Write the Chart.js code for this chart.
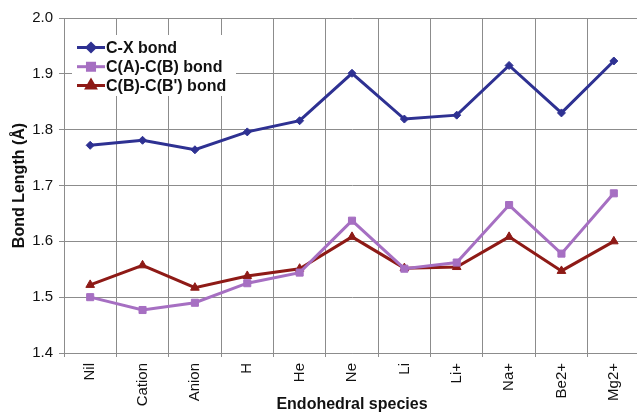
<!DOCTYPE html>
<html>
<head>
<meta charset="utf-8">
<script src="https://cdn.jsdelivr.net/npm/chart.js@4/dist/chart.umd.min.js"></script>
<style>
  html, body { margin: 0; padding: 0; background: #fff; overflow: hidden; }
  #wrap { width: 637px; height: 414px; overflow: hidden; }
</style>
</head>
<body>
<div id="wrap"><canvas id="c" width="646" height="414"></canvas></div>
<script>
// Endohedral species vs bond length (Å). Plot is cropped at the right edge
// in the reference, so the canvas is a few px wider than the window.
var SPECIES = ["Nil", "Cation", "Anion", "H", "He", "Ne", "Li", "Li+", "Na+", "Be2+", "Mg2+"];
var CX_BOND = [1.772, 1.781, 1.764, 1.796, 1.816, 1.901, 1.819, 1.826, 1.915, 1.830, 1.923];
var CA_CB_BOND = [1.500, 1.477, 1.490, 1.525, 1.544, 1.637, 1.551, 1.562, 1.665, 1.578, 1.686];
var CB_CBP_BOND = [1.522, 1.557, 1.517, 1.538, 1.551, 1.608, 1.552, 1.554, 1.608, 1.547, 1.600];
var Y_TICKS = [1.4, 1.5, 1.6, 1.7, 1.8, 1.9, 2.0];

var FONT = "'Liberation Sans', Arial, Helvetica, sans-serif";
var NAVY = "#2e3192", PURPLE = "#a66fc2", DARKRED = "#8e1a16";
var GRID = "#8c8c8c";

function series(label, data, color, style, radius) {
  return { label: label, data: data, borderColor: color, backgroundColor: color,
           borderWidth: 3, pointStyle: style, pointRadius: radius, pointHoverRadius: radius,
           pointBorderWidth: 1, tension: 0, fill: false };
}

// legend drawn as line + marker like the original, on a white box
var boxLegend = {
  id: "boxLegend",
  afterDatasetsDraw: function (chart) {
    var ctx = chart.ctx;
    ctx.save();
    ctx.fillStyle = "#fff";
    ctx.fillRect(72, 35, 164, 61);
    var rowY = [47.5, 66.7, 85.5];
    chart.data.datasets.forEach(function (ds, i) {
      var y = rowY[i];
      ctx.strokeStyle = ds.borderColor;
      ctx.lineWidth = 3;
      ctx.beginPath(); ctx.moveTo(77, y); ctx.lineTo(105, y); ctx.stroke();
      ctx.fillStyle = ds.backgroundColor;
      Chart.helpers.drawPoint(ctx, { pointStyle: ds.pointStyle, radius: ds.pointRadius, rotation: 0, borderWidth: 1 }, 91, y);
      ctx.fill();
      ctx.fillStyle = "#111";
      ctx.font = "bold 16px " + FONT;
      ctx.textBaseline = "middle";
      ctx.fillText(ds.label, 106, y + 1);
    });
    ctx.restore();
  }
};

new Chart(document.getElementById("c"), {
  type: "line",
  data: {
    labels: SPECIES,
    datasets: [
      series("C-X bond", CX_BOND, NAVY, "rectRot", 4),
      series("C(A)-C(B) bond", CA_CB_BOND, PURPLE, "rect", 5),
      series("C(B)-C(B') bond", CB_CBP_BOND, DARKRED, "triangle", 5)
    ]
  },
  options: {
    responsive: false,
    animation: false,
    events: [],
    layout: { padding: { top: 18, right: 1, left: 0, bottom: 0 } },
    plugins: { legend: { display: false }, tooltip: { enabled: false } },
    scales: {
      x: {
        offset: true,
        grid: { offset: true, color: GRID, lineWidth: 1, tickLength: 4, drawTicks: true },
        border: { color: GRID, width: 1 },
        ticks: { color: "#111", font: { family: FONT, size: 15 }, minRotation: 90, maxRotation: 90, padding: 6, autoSkip: false },
        title: { display: true, text: "Endohedral species", color: "#111",
                 font: { family: FONT, size: 16, weight: "bold" }, padding: { top: 0, bottom: 0 } },
        afterFit: function (s) { s.height = 61; }
      },
      y: {
        min: 1.4, max: 2.0,
        afterBuildTicks: function (s) { s.ticks = Y_TICKS.map(function (v) { return { value: v }; }); },
        grid: { color: GRID, lineWidth: 1, tickLength: 5 },
        border: { color: GRID, width: 1 },
        ticks: { color: "#111", font: { family: FONT, size: 15 }, padding: 6,
                 callback: function (v) { return Number(v).toFixed(1); } },
        title: { display: true, text: "Bond Length (Å)", color: "#111",
                 font: { family: FONT, size: 16, weight: "bold" }, padding: { top: 10, bottom: 0 } },
        afterFit: function (s) { s.width = 64; }
      }
    }
  },
  plugins: [boxLegend]
});
</script>
</body>
</html>
